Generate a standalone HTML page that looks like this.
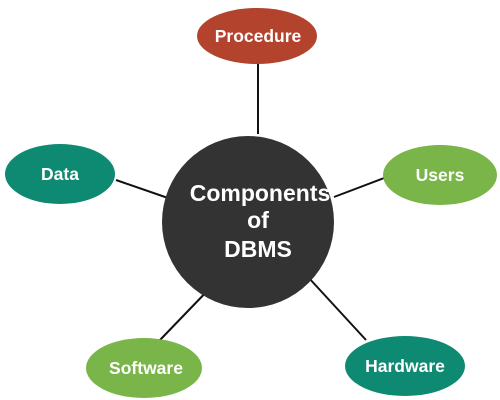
<!DOCTYPE html>
<html><head><style>html,body{margin:0;padding:0;background:#fff;width:500px;height:400px;overflow:hidden}</style></head>
<body>
<svg width="500" height="400" viewBox="0 0 500 400" xmlns="http://www.w3.org/2000/svg" font-family="Liberation Sans, sans-serif" font-weight="bold">
<g stroke="#111" stroke-width="2">
<line x1="258" y1="62" x2="258" y2="134"/>
<line x1="116" y1="180" x2="168" y2="198"/>
<line x1="384" y1="178" x2="334" y2="197"/>
<line x1="160" y1="340" x2="213" y2="285"/>
<line x1="366" y1="340" x2="308" y2="277"/>
</g>
<circle cx="248" cy="222" r="86" fill="#333333"/>
<text fill="#fff" font-size="23" text-anchor="middle"><tspan x="260" y="201">Components</tspan><tspan x="258" y="228">of</tspan><tspan x="258" y="257">DBMS</tspan></text>
<ellipse cx="257" cy="36" rx="60" ry="28" fill="#b3432d"/>
<text x="258" y="42" fill="#fff" font-size="17.5" text-anchor="middle">Procedure</text>
<ellipse cx="60" cy="174" rx="55" ry="30" fill="#0e8a72"/>
<text x="60" y="180" fill="#fff" font-size="17.5" text-anchor="middle">Data</text>
<ellipse cx="440" cy="175" rx="57" ry="30" fill="#79b548"/>
<text x="440" y="181" fill="#fff" font-size="17.5" text-anchor="middle">Users</text>
<ellipse cx="144" cy="368" rx="58" ry="30" fill="#79b548"/>
<text x="146" y="374" fill="#fff" font-size="17.5" text-anchor="middle">Software</text>
<ellipse cx="405" cy="366" rx="60" ry="30" fill="#0e8a72"/>
<text x="405" y="372" fill="#fff" font-size="17.5" text-anchor="middle">Hardware</text>
</svg>
</body></html>
